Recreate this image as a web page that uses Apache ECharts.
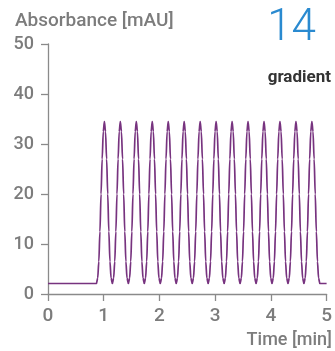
<!DOCTYPE html>
<html>
<head>
<meta charset="utf-8">
<script src="https://cdn.jsdelivr.net/npm/echarts@6/dist/echarts.min.js"></script>
<style>
html,body{margin:0;padding:0;background:#fff;}
#chart{width:335px;height:351px;}
</style>
</head>
<body>
<div id="chart"></div>
<script>
// Chart texts
const yAxisTitle = 'Absorbance [mAU]';
const xAxisTitle = 'Time [min]';
const panelNumber = '14';
const panelLabel = 'gradient';

// Tick values
const xTicks = [0, 1, 2, 3, 4, 5];
const yTicks = [0, 10, 20, 30, 40, 50];

// Chromatogram trace: time [min]
const time = [
  0.000, 0.869,
  0.892,0.912,0.932,0.952,0.972,0.992,1.012,1.032,1.052,1.072,1.092,1.112,1.132,1.155,
  1.178,1.198,1.218,1.238,1.258,1.278,1.298,1.318,1.338,1.358,1.378,1.398,1.418,1.442,
  1.465,1.485,1.505,1.525,1.545,1.565,1.585,1.605,1.625,1.645,1.665,1.685,1.705,1.728,
  1.751,1.771,1.791,1.811,1.831,1.851,1.871,1.891,1.911,1.931,1.951,1.971,1.991,2.015,
  2.038,2.058,2.078,2.098,2.118,2.138,2.158,2.178,2.198,2.218,2.238,2.258,2.278,2.301,
  2.324,2.344,2.364,2.384,2.404,2.424,2.444,2.464,2.484,2.504,2.524,2.544,2.564,2.588,
  2.611,2.631,2.651,2.671,2.691,2.711,2.731,2.751,2.771,2.791,2.811,2.831,2.851,2.874,
  2.897,2.917,2.937,2.957,2.977,2.997,3.017,3.037,3.057,3.077,3.097,3.117,3.137,3.161,
  3.184,3.204,3.224,3.244,3.264,3.284,3.304,3.324,3.344,3.364,3.384,3.404,3.424,3.447,
  3.470,3.490,3.510,3.530,3.550,3.570,3.590,3.610,3.630,3.650,3.670,3.690,3.710,3.734,
  3.757,3.777,3.797,3.817,3.837,3.857,3.877,3.897,3.917,3.937,3.957,3.977,3.997,4.020,
  4.043,4.063,4.083,4.103,4.123,4.143,4.163,4.183,4.203,4.223,4.243,4.263,4.283,4.307,
  4.330,4.350,4.370,4.390,4.410,4.430,4.450,4.470,4.490,4.510,4.530,4.550,4.570,4.593,
  4.616,4.636,4.656,4.676,4.696,4.716,4.736,4.756,4.776,4.796,4.816,4.836,4.856,4.879,
  5.000
];

// Absorbance [mAU] at each time above
const absorbance = [
  2.1, 2.1,
  3.2,6.5,12.5,20,27,32.5,34.5,32.5,27,20,12.5,6.5,3.2,2.1,
  3.2,6.5,12.5,20,27,32.5,34.5,32.5,27,20,12.5,6.5,3.2,2.1,
  3.2,6.5,12.5,20,27,32.5,34.5,32.5,27,20,12.5,6.5,3.2,2.1,
  3.2,6.5,12.5,20,27,32.5,34.5,32.5,27,20,12.5,6.5,3.2,2.1,
  3.2,6.5,12.5,20,27,32.5,34.5,32.5,27,20,12.5,6.5,3.2,2.1,
  3.2,6.5,12.5,20,27,32.5,34.5,32.5,27,20,12.5,6.5,3.2,2.1,
  3.2,6.5,12.5,20,27,32.5,34.5,32.5,27,20,12.5,6.5,3.2,2.1,
  3.2,6.5,12.5,20,27,32.5,34.5,32.5,27,20,12.5,6.5,3.2,2.1,
  3.2,6.5,12.5,20,27,32.5,34.5,32.5,27,20,12.5,6.5,3.2,2.1,
  3.2,6.5,12.5,20,27,32.5,34.5,32.5,27,20,12.5,6.5,3.2,2.1,
  3.2,6.5,12.5,20,27,32.5,34.5,32.5,27,20,12.5,6.5,3.2,2.1,
  3.2,6.5,12.5,20,27,32.5,34.5,32.5,27,20,12.5,6.5,3.2,2.1,
  3.2,6.5,12.5,20,27,32.5,34.5,32.5,27,20,12.5,6.5,3.2,2.1,
  3.2,6.5,12.5,20,27,32.5,34.5,32.5,27,20,12.5,6.5,3.2,2.1,
  2.1
];

const seriesData = time.map((t, i) => [t, absorbance[i]]);

const gray = '#7c7c7c';
const axisGray = '#8a8a8a';
const tickFont = "Roboto, sans-serif";

const chart = echarts.init(document.getElementById('chart'), null, {renderer: 'canvas'});
chart.setOption({
  animation: false,
  backgroundColor: '#ffffff',
  grid: {left: 48, right: 3, top: 44, bottom: 57, containLabel: false},
  xAxis: {
    type: 'value',
    min: xTicks[0], max: xTicks[xTicks.length - 1], interval: 1,
    axisLine: {show: true, onZero: false, lineStyle: {color: axisGray, width: 1.3}},
    axisTick: {show: true, inside: false, length: 7, lineStyle: {color: axisGray, width: 1.3}},
    axisLabel: {color: gray, fontFamily: tickFont, fontWeight: 500, fontSize: 19, margin: 13,
      formatter: v => xTicks.includes(v) ? String(v) : ''},
    splitLine: {show: false}
  },
  yAxis: {
    type: 'value',
    min: yTicks[0], max: yTicks[yTicks.length - 1], interval: 10,
    axisLine: {show: true, onZero: false, lineStyle: {color: axisGray, width: 1.3}},
    axisTick: {show: true, inside: false, length: 7, lineStyle: {color: axisGray, width: 1.3}},
    axisLabel: {color: gray, fontFamily: tickFont, fontWeight: 500, fontSize: 18, margin: 14,
      formatter: v => yTicks.includes(v) ? String(v) : ''},
    splitLine: {show: false}
  },
  graphic: [
    {type: 'text', left: 15, top: 12,
      style: {text: yAxisTitle, fill: gray, font: "500 19px Roboto, sans-serif"}},
    {type: 'text', right: 3, top: 331,
      style: {text: xAxisTitle, fill: gray, font: "500 18px Roboto, sans-serif"}},
    {type: 'text', right: 19, top: 7,
      style: {text: panelNumber, fill: '#2a8ad0', font: "300 44px Roboto, sans-serif"}},
    {type: 'text', right: 4, top: 69,
      style: {text: panelLabel, fill: '#333333', font: "bold 17px Roboto, sans-serif"}}
  ],
  series: [{
    type: 'line',
    data: seriesData,
    showSymbol: false,
    smooth: 0.3,
    smoothMonotone: 'x',
    lineStyle: {color: '#77337f', width: 1.7},
    clip: true
  }]
});
</script>
</body>
</html>
